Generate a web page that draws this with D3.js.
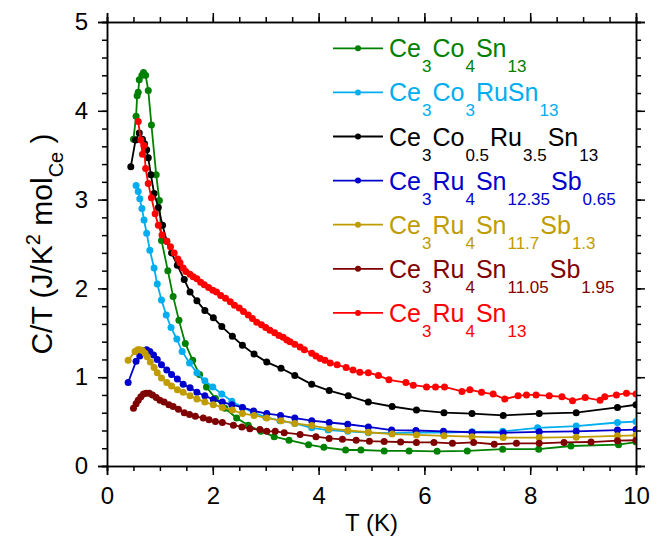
<!DOCTYPE html>
<html><head><meta charset="utf-8">
<script src="https://cdn.jsdelivr.net/npm/d3@7"></script>
<style>body{margin:0;background:#fff}svg{display:block}text{font-family:Arial,"Liberation Sans",sans-serif}</style>
</head><body><svg id="c" width="663" height="545"></svg>
<script>
// ---- data ----
const xTicks = [0, 2, 4, 6, 8, 10];
const yTicks = [0, 1, 2, 3, 4, 5];

const ce3co4sn13 = [[0.50,3.68],[0.55,3.94],[0.57,4.17],[0.59,4.21],[0.61,4.35],[0.66,4.40],[0.69,4.43],[0.73,4.40],[0.78,4.23],[0.84,3.84],[0.93,3.28],[0.99,2.99],[1.03,2.54],[1.15,2.20],[1.25,1.91],[1.36,1.64],[1.48,1.38],[1.62,1.19],[1.75,1.03],[1.88,0.89],[2.05,0.76],[2.23,0.65],[2.45,0.54],[2.67,0.46],[2.91,0.39],[3.16,0.33],[3.44,0.29],[3.81,0.24],[4.10,0.21],[4.51,0.18],[4.80,0.18],[5.24,0.17],[5.71,0.17],[6.24,0.165],[6.81,0.17],[7.48,0.19],[8.16,0.19],[8.77,0.225],[9.67,0.24],[10.0,0.27]];
const ce3co3rusn13 = [[0.55,3.16],[0.59,3.09],[0.62,3.01],[0.66,2.90],[0.70,2.77],[0.75,2.62],[0.81,2.43],[0.89,2.23],[0.95,2.05],[1.03,1.87],[1.12,1.70],[1.21,1.56],[1.32,1.43],[1.42,1.29],[1.56,1.16],[1.70,1.05],[1.85,0.96],[2.00,0.89],[2.17,0.81],[2.36,0.73],[2.56,0.66],[2.77,0.60],[3.00,0.55],[3.27,0.51],[3.55,0.48],[3.87,0.43],[4.18,0.405],[4.55,0.39],[4.94,0.375],[5.38,0.37],[5.86,0.375],[6.36,0.375],[6.90,0.385],[7.48,0.39],[8.14,0.43],[8.87,0.45],[9.65,0.49],[10.0,0.50]];
const ce3co05ru35sn13 = [[0.45,3.37],[0.54,3.67],[0.61,3.75],[0.67,3.68],[0.71,3.63],[0.75,3.56],[0.78,3.47],[0.83,3.28],[0.89,3.07],[0.97,2.91],[1.05,2.71],[1.13,2.53],[1.22,2.40],[1.33,2.26],[1.46,2.10],[1.57,1.96],[1.70,1.86],[1.85,1.75],[2.01,1.67],[2.17,1.57],[2.37,1.46],[2.56,1.36],[2.78,1.26],[3.02,1.17],[3.29,1.10],[3.55,1.02],[3.87,0.92],[4.20,0.85],[4.56,0.79],[4.94,0.72],[5.39,0.67],[5.85,0.63],[6.37,0.60],[6.90,0.59],[7.49,0.57],[8.17,0.59],[8.87,0.60],[9.65,0.66],[10.0,0.69]];
const ce3ru4sn1235sb065 = [[0.40,0.94],[0.55,1.18],[0.62,1.24],[0.69,1.30],[0.75,1.31],[0.81,1.29],[0.88,1.25],[0.95,1.20],[1.03,1.14],[1.13,1.08],[1.22,1.03],[1.33,0.98],[1.44,0.92],[1.57,0.88],[1.70,0.83],[1.85,0.79],[2.01,0.75],[2.18,0.72],[2.36,0.69],[2.56,0.66],[2.77,0.62],[3.02,0.59],[3.28,0.57],[3.55,0.54],[3.87,0.51],[4.20,0.49],[4.55,0.47],[4.94,0.44],[5.38,0.405],[5.84,0.40],[6.36,0.39],[6.90,0.38],[7.49,0.375],[8.17,0.385],[8.87,0.39],[9.65,0.405],[10.0,0.41]];
const ce3ru4sn117sb13 = [[0.40,1.19],[0.53,1.29],[0.58,1.31],[0.62,1.31],[0.67,1.30],[0.72,1.27],[0.76,1.23],[0.82,1.17],[0.89,1.11],[0.95,1.05],[1.03,0.99],[1.13,0.94],[1.22,0.90],[1.33,0.86],[1.44,0.83],[1.57,0.79],[1.70,0.755],[1.85,0.72],[2.01,0.69],[2.18,0.66],[2.37,0.63],[2.56,0.59],[2.78,0.57],[3.02,0.54],[3.29,0.51],[3.55,0.48],[3.87,0.455],[4.20,0.42],[4.55,0.40],[4.94,0.38],[5.39,0.36],[5.85,0.35],[6.37,0.34],[6.90,0.33],[7.49,0.32],[8.17,0.32],[8.87,0.325],[9.65,0.34],[10.0,0.345]];
const ce3ru4sn1105sb195 = [[0.50,0.65],[0.55,0.70],[0.59,0.74],[0.64,0.78],[0.69,0.81],[0.74,0.82],[0.80,0.82],[0.86,0.80],[0.93,0.77],[1.00,0.74],[1.08,0.72],[1.17,0.69],[1.25,0.67],[1.35,0.64],[1.46,0.60],[1.56,0.58],[1.67,0.56],[1.82,0.54],[1.93,0.52],[2.05,0.50],[2.18,0.49],[2.39,0.46],[2.55,0.44],[2.70,0.42],[2.89,0.41],[3.02,0.39],[3.18,0.39],[3.35,0.375],[3.65,0.355],[3.95,0.33],[4.20,0.31],[4.45,0.30],[4.71,0.29],[4.96,0.28],[5.24,0.275],[5.55,0.27],[5.85,0.265],[6.18,0.265],[6.53,0.255],[6.93,0.265],[7.32,0.245],[7.74,0.255],[8.17,0.255],[8.64,0.265],[9.15,0.27],[9.65,0.285],[10.0,0.29]];
const ce3ru4sn13 = [[0.59,3.88],[0.64,3.67],[0.67,3.51],[0.70,3.61],[0.73,3.35],[0.78,3.18],[0.84,3.02],[0.91,2.84],[0.97,2.71],[1.04,2.60],[1.13,2.53],[1.20,2.47],[1.27,2.40],[1.34,2.33],[1.38,2.29],[1.44,2.23],[1.49,2.19],[1.57,2.16],[1.63,2.13],[1.70,2.11],[1.77,2.07],[1.84,2.04],[1.92,2.01],[2.00,1.98],[2.07,1.96],[2.15,1.92],[2.24,1.89],[2.33,1.85],[2.41,1.81],[2.50,1.78],[2.58,1.74],[2.67,1.70],[2.75,1.66],[2.83,1.62],[2.92,1.59],[3.00,1.56],[3.08,1.53],[3.17,1.50],[3.25,1.47],[3.33,1.45],[3.40,1.42],[3.46,1.40],[3.55,1.37],[3.65,1.34],[3.73,1.31],[3.87,1.27],[3.95,1.24],[4.03,1.21],[4.12,1.19],[4.22,1.16],[4.35,1.14],[4.52,1.11],[4.65,1.08],[4.78,1.055],[4.94,1.05],[5.13,1.02],[5.33,0.97],[5.65,0.94],[5.79,0.91],[6.04,0.89],[6.21,0.89],[6.38,0.89],[6.71,0.84],[6.86,0.86],[7.08,0.83],[7.30,0.81],[7.52,0.755],[7.77,0.79],[7.93,0.80],[8.11,0.80],[8.36,0.79],[8.60,0.78],[8.80,0.735],[9.04,0.77],[9.32,0.74],[9.41,0.78],[9.63,0.80],[9.82,0.82],[10.0,0.81]];

const seriesNames = ["Ce3Co4Sn13","Ce3Co3RuSn13","Ce3Co0.5Ru3.5Sn13","Ce3Ru4Sn12.35Sb0.65","Ce3Ru4Sn11.7Sb1.3","Ce3Ru4Sn11.05Sb1.95","Ce3Ru4Sn13"];
// legend label parts: [text, subscript?]
const legendParts = [
  [["Ce",0],["3",1],["Co",0],["4",1],["Sn",0],["13",1]],
  [["Ce",0],["3",1],["Co",0],["3",1],["RuSn",0],["13",1]],
  [["Ce",0],["3",1],["Co",0],["0.5",1],["Ru",0],["3.5",1],["Sn",0],["13",1]],
  [["Ce",0],["3",1],["Ru",0],["4",1],["Sn",0],["12.35",1],["Sb",0],["0.65",1]],
  [["Ce",0],["3",1],["Ru",0],["4",1],["Sn",0],["11.7",1],["Sb",0],["1.3",1]],
  [["Ce",0],["3",1],["Ru",0],["4",1],["Sn",0],["11.05",1],["Sb",0],["1.95",1]],
  [["Ce",0],["3",1],["Ru",0],["4",1],["Sn",0],["13",1]]
];
const seriesData = [ce3co4sn13, ce3co3rusn13, ce3co05ru35sn13, ce3ru4sn1235sb065, ce3ru4sn117sb13, ce3ru4sn1105sb195, ce3ru4sn13];
const colors = ["#008000","#00aeef","#000000","#0000cc","#c09c00","#7f0000","#ff0000"];

// ---- chart ----
const svg = d3.select("#c");
const L = 107, R = 636, T = 22, B = 466;
const x = d3.scaleLinear().domain([0,10]).range([L,R]);
const y = d3.scaleLinear().domain([0,5]).range([B,T]);

svg.append("defs").append("clipPath").attr("id","clip")
  .append("rect").attr("x",L).attr("y",T-5).attr("width",R-L).attr("height",B-T+10);

const xMinor = d3.range(0,10.01,0.5);
const yMinor = d3.range(0,5.01,0.2);

function axis(gen, tr){
  const g = svg.append("g").attr("transform",tr);
  g.call(gen);
  g.selectAll(".domain").attr("stroke","#000").attr("stroke-width",1.5);
  g.selectAll(".tick line").attr("stroke","#000").attr("stroke-width",1.5);
  return g;
}
const fmt = d3.format("d");
// minor ticks
axis(d3.axisBottom(x).tickValues(xMinor).tickSize(5).tickFormat(""), `translate(0,${B})`);
axis(d3.axisTop(x).tickValues(xMinor).tickSize(5).tickFormat(""), `translate(0,${T})`);
axis(d3.axisLeft(y).tickValues(yMinor).tickSize(5).tickFormat(""), `translate(${L},0)`);
axis(d3.axisRight(y).tickValues(yMinor).tickSize(5).tickFormat(""), `translate(${R},0)`);
// major ticks
axis(d3.axisBottom(x).tickValues(xTicks).tickSize(9).tickPadding(12).tickFormat(fmt), `translate(0,${B})`);
axis(d3.axisTop(x).tickValues(xTicks).tickSize(9).tickFormat(""), `translate(0,${T})`);
axis(d3.axisLeft(y).tickValues(yTicks).tickSize(9).tickPadding(10).tickFormat(fmt), `translate(${L},0)`);
axis(d3.axisRight(y).tickValues(yTicks).tickSize(9).tickFormat(""), `translate(${R},0)`);
svg.selectAll(".tick text").attr("font-size",24).attr("fill","#000").attr("font-family","Arial, 'Liberation Sans', sans-serif");

// axis titles
svg.append("text").attr("x",(L+R)/2).attr("y",531).attr("text-anchor","middle")
  .attr("font-size",24).text("T (K)");
const yt = svg.append("text").attr("transform",`translate(52,${(T+B)/2}) rotate(-90)`)
  .attr("text-anchor","middle").attr("font-size",30);
yt.append("tspan").text("C/T (J/K");
yt.append("tspan").attr("font-size",20).attr("dy",-12).text("2");
yt.append("tspan").attr("dy",12).text(" mol");
yt.append("tspan").attr("font-size",20).attr("dy",11).text("Ce");
yt.append("tspan").attr("dy",-11).text(" )");

// series
const line = d3.line().x(d=>x(d[0])).y(d=>y(d[1]));
const plot = svg.append("g").attr("clip-path","url(#clip)");
seriesData.forEach((data,i)=>{
  const g = plot.append("g");
  g.append("path").datum(data).attr("d",line).attr("fill","none")
    .attr("stroke",colors[i]).attr("stroke-width",1.8);
  g.selectAll("circle").data(data).join("circle")
    .attr("cx",d=>x(d[0])).attr("cy",d=>y(d[1])).attr("r",3.5).attr("fill",colors[i]);
});

// legend
const lg = svg.append("g");
legendParts.forEach((parts,i)=>{
  const base = 57.3 + i*44.1;
  const ly = base - 9;
  lg.append("line").attr("x1",333).attr("x2",383).attr("y1",ly).attr("y2",ly)
    .attr("stroke",colors[i]).attr("stroke-width",1.8);
  lg.append("circle").attr("cx",358).attr("cy",ly).attr("r",3).attr("fill",colors[i]);
  const t = lg.append("text").attr("x",389).attr("y",base).attr("fill",colors[i]).attr("font-size",25);
  let sub = false;
  parts.forEach(([s,isSub])=>{
    const ts = t.append("tspan").text(s);
    if(isSub){ ts.attr("font-size",17).attr("dy", sub?0:15).attr("dx",1); sub=true; }
    else { ts.attr("dy", sub?-15:0).attr("dx", sub?1:0); sub=false; }
  });
});
</script></body></html>
